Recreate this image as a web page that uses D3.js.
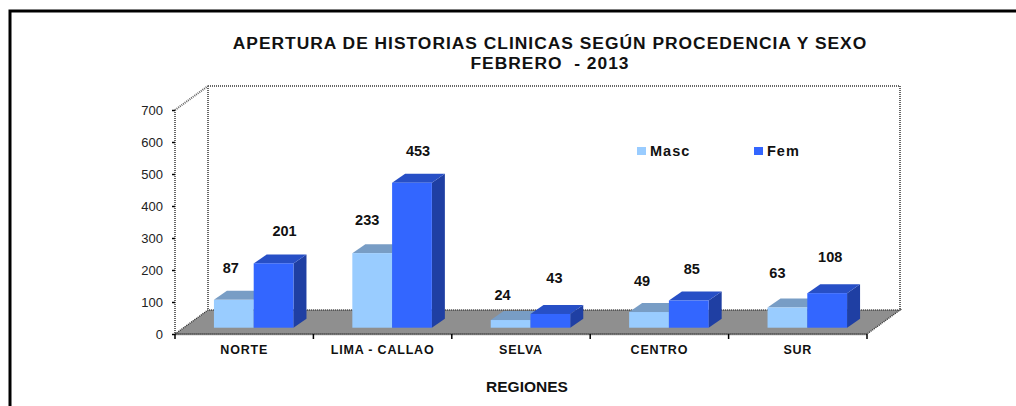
<!DOCTYPE html>
<html><head><meta charset="utf-8">
<script src="https://cdn.jsdelivr.net/npm/d3@7/dist/d3.min.js"></script>
<style>html,body{margin:0;padding:0;background:#fff}svg{display:block}text{fill:#111}</style>
</head><body><svg id="c" width="1016" height="406"></svg>
<script>
const categories = ["NORTE","LIMA - CALLAO","SELVA","CENTRO","SUR"];
const seriesNames = ["Masc","Fem"];
const masc = [87,233,24,49,63];
const fem = [201,453,43,85,108];
const yTicks = [0,100,200,300,400,500,600,700];
const titleLines = ["APERTURA DE HISTORIAS CLINICAS SEGÚN PROCEDENCIA Y SEXO","FEBRERO  - 2013"];
const xTitle = "REGIONES";

const svg = d3.select("#c");
const sans = "'Liberation Sans',Arial,sans-serif";
const plot = {l:175, r:867, b:334, t:110};
const wall = {dx:33, dy:-24};
const barInset = {dx:9.5, dy:-6.3};
const barDepth = {dx:13, dy:-9};
const colors = {
  Masc:{front:"#99CCFF", top:"#789DC5", side:"#6F92B8"},
  Fem:{front:"#3366FF", top:"#274FC6", side:"#1F3FA3"}
};

const x0 = d3.scaleBand().domain(categories).range([plot.l, plot.r]);
const x1 = d3.scaleBand().domain(seriesNames).range([0, x0.bandwidth()]).paddingInner(0).paddingOuter(0.74);
const y = d3.scaleLinear().domain([0,700]).range([plot.b, plot.t]);

// outer frame
svg.append("path").attr("d","M10,406V11H1016").attr("fill","none").attr("stroke","#000").attr("stroke-width",3);

// title
svg.append("g").selectAll("text").data(titleLines).join("text")
  .attr("x",550).attr("y",(d,i)=>49+i*20).attr("text-anchor","middle")
  .attr("font-family",sans).attr("font-weight",700).attr("font-size",17.4)
  .style("letter-spacing","1px")
  .style("white-space","pre").text(d=>d);

// walls
const p = (a,b)=>`M${a[0]},${a[1]}L${b[0]},${b[1]}`;
const wx = plot.l+wall.dx, wr = plot.r+wall.dx, wt = y(700)+wall.dy, wb = y(0)+wall.dy;
const wallPaths = [
  p([plot.l,y(700)],[plot.l,y(0)]), p([wx,wt],[wx,wb]), p([wx,wt],[wr,wt]), p([wr,wt],[wr,wb]),
  p([plot.l,y(700)],[wx,wt])
];
svg.append("g").selectAll("path").data(wallPaths).join("path").attr("d",d=>d)
  .attr("fill","none").attr("stroke","#666").attr("stroke-width",2).attr("stroke-dasharray","1 1");

// floor
svg.append("path")
  .attr("d",`M${plot.l},${y(0)}L${wx},${wb}H${wr}L${plot.r},${y(0)}Z`)
  .attr("fill","#8F8F8F").attr("stroke","#333").attr("stroke-width",1.4).attr("stroke-dasharray","1 1");

// bars
const rows = [];
categories.forEach((c,i)=>{
  rows.push({c,s:"Masc",v:masc[i],i});
  rows.push({c,s:"Fem",v:fem[i],i});
});
const bars = svg.append("g").selectAll("g").data(rows).join("g");
const geom = d=>{
  const xa = x0(d.c)+x1(d.s)+barInset.dx, xb = xa+x1.bandwidth();
  const yb = y(0)+barInset.dy, yt = y(d.v)+barInset.dy;
  return {xa,xb,yb,yt};
};
bars.append("path").attr("fill",d=>colors[d.s].side).attr("d",d=>{const g=geom(d);
  return `M${g.xb},${g.yt}l${barDepth.dx},${barDepth.dy}V${g.yb+barDepth.dy}L${g.xb},${g.yb}Z`;});
bars.append("path").attr("fill",d=>colors[d.s].top).attr("d",d=>{const g=geom(d);
  return `M${g.xa},${g.yt}l${barDepth.dx},${barDepth.dy}H${g.xb+barDepth.dx}L${g.xb},${g.yt}Z`;});
bars.append("rect").attr("fill",d=>colors[d.s].front)
  .attr("x",d=>geom(d).xa).attr("y",d=>geom(d).yt)
  .attr("width",x1.bandwidth()).attr("height",d=>geom(d).yb-geom(d).yt);

// data labels: nudges in pixels from each bar's centre / top, in row order
const labelNudge = [[-3,-27],[11,-27],[-5,-28],[6,-27],[-8,-20],[4,-31],[-7,-26],[3,-27],[-10,-30],[3,-31]];
bars.append("text").attr("text-anchor","middle")
  .attr("font-family",sans).attr("font-weight",700).attr("font-size",14.5)
  .attr("x",(d,i)=>(geom(d).xa+geom(d).xb)/2+labelNudge[i][0])
  .attr("y",(d,i)=>geom(d).yt+labelNudge[i][1])
  .text(d=>d.v);

// y axis
const gy = svg.append("g").attr("transform",`translate(${plot.l},0)`)
  .call(d3.axisLeft(y).tickValues(yTicks).tickSize(3).tickPadding(9));
gy.select(".domain").remove();
gy.selectAll("line").attr("stroke","#000").attr("stroke-width",1.5);
gy.selectAll("text").attr("font-family",sans).attr("font-size",13).style("fill","#222");

// x axis
const gx = svg.append("g").attr("transform",`translate(0,${plot.b})`)
  .call(d3.axisBottom(x0).tickSize(0).tickPadding(11));
gx.select(".domain").attr("stroke","#333").attr("stroke-width",1.4).attr("stroke-dasharray","1 1");
gx.selectAll("text").attr("font-family",sans).attr("font-weight",700).attr("font-size",12.5).style("letter-spacing","0.8px");
const edges = categories.map(c=>x0(c)).concat([plot.r]);
gx.selectAll("line.edge").data(edges).join("line").attr("class","edge")
  .attr("x1",d=>d).attr("x2",d=>d).attr("y1",0).attr("y2",5).attr("stroke","#000").attr("stroke-width",1.5);

svg.append("text").attr("x",527).attr("y",392).attr("text-anchor","middle")
  .attr("font-family",sans).attr("font-weight",700).attr("font-size",15.5).text(xTitle);

// legend
const lx = d3.scaleOrdinal().domain(seriesNames).range([637,754]);
const lg = svg.append("g").selectAll("g").data(seriesNames).join("g")
  .attr("transform",d=>`translate(${lx(d)},147)`);
lg.append("rect").attr("width",9).attr("height",8).attr("fill",d=>colors[d].front);
lg.append("text").attr("x",13).attr("y",8.5).attr("font-family",sans).attr("font-weight",700)
  .attr("font-size",14.5).style("letter-spacing","1px").text(d=>d);
</script></body></html>
